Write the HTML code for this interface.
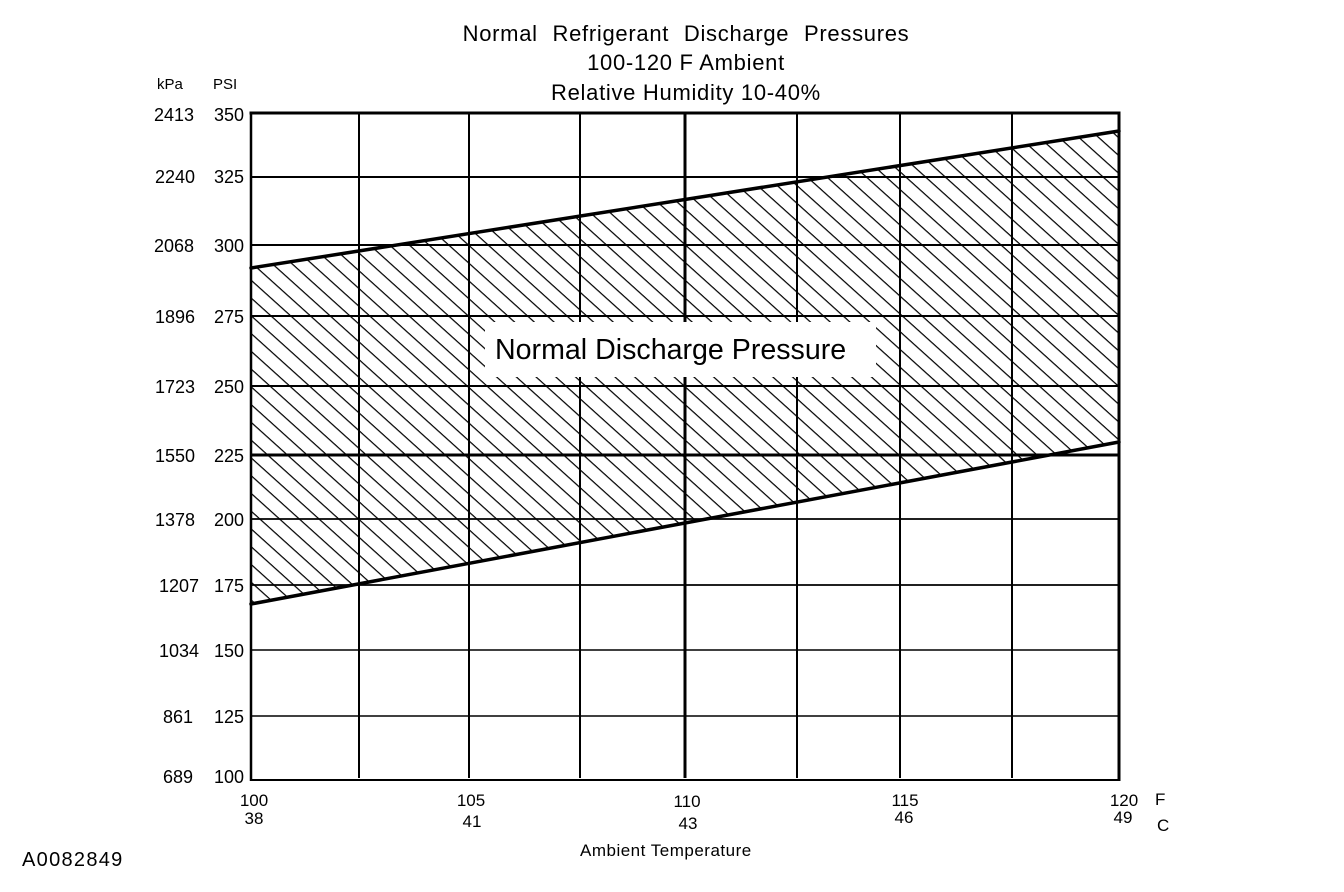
<!DOCTYPE html>
<html>
<head>
<meta charset="utf-8">
<style>
  html, body { margin: 0; padding: 0; background: #fff; }
  svg { display: block; }
  text { font-family: "Liberation Sans", Arial, sans-serif; fill: #000; }
</style>
</head>
<body>
<svg width="1344" height="892" viewBox="0 0 1344 892" xmlns="http://www.w3.org/2000/svg">
  <defs>
    <pattern id="hatch" patternUnits="userSpaceOnUse" width="20" height="13.2" patternTransform="rotate(42)">
      <line x1="-2" y1="0.6" x2="22" y2="0.6" stroke="#000" stroke-width="1.3"/>
    </pattern>
    <clipPath id="band">
      <polygon points="251,268 1119,131 1119,442 251,604"/>
    </clipPath>
  </defs>

  <rect x="0" y="0" width="1344" height="892" fill="#fff"/>

  <!-- Title -->
  <text x="686" y="41" font-size="22" text-anchor="middle" letter-spacing="0.7" word-spacing="8">Normal Refrigerant Discharge Pressures</text>
  <text x="686" y="70" font-size="22" text-anchor="middle" letter-spacing="0.7">100-120 F Ambient</text>
  <text x="686" y="100" font-size="22" text-anchor="middle" letter-spacing="0.7">Relative Humidity 10-40%</text>

  <!-- Hatched band -->
  <rect x="251" y="120" width="868" height="500" fill="url(#hatch)" clip-path="url(#band)"/>

  <!-- Horizontal gridlines -->
  <g stroke="#000" fill="none">
    <line x1="251" y1="177" x2="1119" y2="177" stroke-width="2"/>
    <line x1="251" y1="245" x2="1119" y2="245" stroke-width="2"/>
    <line x1="251" y1="316" x2="1119" y2="316" stroke-width="2"/>
    <line x1="251" y1="386" x2="1119" y2="386" stroke-width="2"/>
    <line x1="251" y1="455" x2="1119" y2="455" stroke-width="3"/>
    <line x1="251" y1="519" x2="1119" y2="519" stroke-width="1.8"/>
    <line x1="251" y1="585" x2="1119" y2="585" stroke-width="1.8"/>
    <line x1="251" y1="650" x2="1119" y2="650" stroke-width="1.4"/>
    <line x1="251" y1="716" x2="1119" y2="716" stroke-width="1.4"/>
  </g>

  <!-- Vertical gridlines -->
  <g stroke="#000" fill="none" stroke-width="2">
    <line x1="359" y1="113" x2="359" y2="778"/>
    <line x1="469" y1="113" x2="469" y2="778"/>
    <line x1="580" y1="113" x2="580" y2="778"/>
    <line x1="685" y1="113" x2="685" y2="778" stroke-width="3"/>
    <line x1="797" y1="113" x2="797" y2="778"/>
    <line x1="900" y1="113" x2="900" y2="778"/>
    <line x1="1012" y1="113" x2="1012" y2="778"/>
  </g>

  <!-- Boundary lines -->
  <g stroke="#000" stroke-width="3.5" fill="none" stroke-linecap="round">
    <line x1="251" y1="268" x2="1119" y2="131"/>
    <line x1="251" y1="604" x2="1119" y2="442"/>
  </g>

  <!-- Outer frame -->
  <g stroke="#000" fill="none">
    <line x1="249.5" y1="113" x2="1120.5" y2="113" stroke-width="3"/>
    <line x1="251" y1="112" x2="251" y2="781" stroke-width="2.5"/>
    <line x1="1119" y1="112" x2="1119" y2="781" stroke-width="3"/>
    <line x1="250" y1="780" x2="1120" y2="780" stroke-width="2"/>
  </g>

  <!-- Label box -->
  <rect x="485" y="322" width="391" height="55" fill="#fff"/>
  <text x="495" y="359" font-size="28.6">Normal Discharge Pressure</text>

  <!-- Axis unit headers -->
  <text x="157" y="89" font-size="15">kPa</text>
  <text x="213" y="89" font-size="15">PSI</text>

  <!-- kPa labels -->
  <g font-size="18" text-anchor="end">
    <text x="194" y="121">2413</text>
    <text x="195" y="183">2240</text>
    <text x="194" y="252">2068</text>
    <text x="195" y="323">1896</text>
    <text x="195" y="393">1723</text>
    <text x="195" y="462">1550</text>
    <text x="195" y="526">1378</text>
    <text x="199" y="592">1207</text>
    <text x="199" y="657">1034</text>
    <text x="193" y="723">861</text>
    <text x="193" y="783">689</text>
  </g>

  <!-- PSI labels -->
  <g font-size="18" text-anchor="end">
    <text x="244" y="121">350</text>
    <text x="244" y="183">325</text>
    <text x="244" y="252">300</text>
    <text x="244" y="323">275</text>
    <text x="244" y="393">250</text>
    <text x="244" y="462">225</text>
    <text x="244" y="526">200</text>
    <text x="244" y="592">175</text>
    <text x="244" y="657">150</text>
    <text x="244" y="723">125</text>
    <text x="244" y="783">100</text>
  </g>

  <!-- X labels -->
  <g font-size="17" text-anchor="middle">
    <text x="254" y="806">100</text>
    <text x="254" y="824">38</text>
    <text x="471" y="806">105</text>
    <text x="472" y="827">41</text>
    <text x="687" y="807">110</text>
    <text x="688" y="829">43</text>
    <text x="905" y="806">115</text>
    <text x="904" y="823">46</text>
    <text x="1124" y="806">120</text>
    <text x="1123" y="823">49</text>
  </g>
  <text x="1155" y="805" font-size="17">F</text>
  <text x="1157" y="831" font-size="17">C</text>

  <text x="580" y="856" font-size="17" letter-spacing="0.5">Ambient Temperature</text>
  <text x="22" y="866" font-size="20" letter-spacing="1.3">A0082849</text>
</svg>
</body>
</html>
